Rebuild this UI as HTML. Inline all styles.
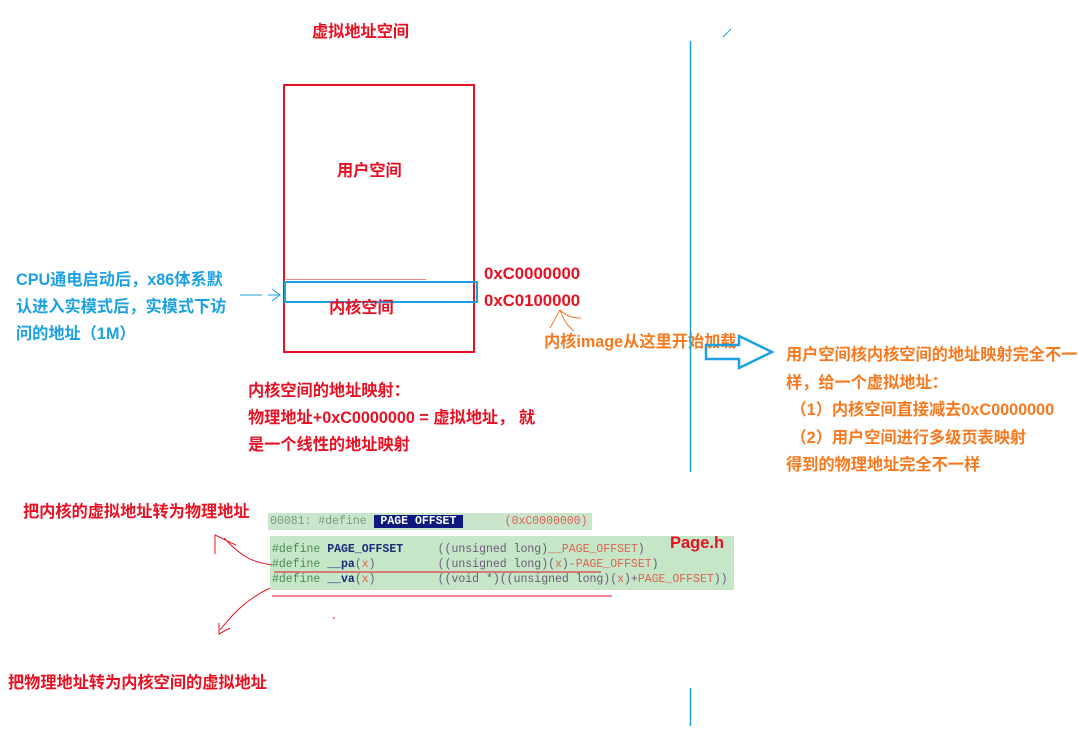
<!DOCTYPE html>
<html><head><meta charset="utf-8"><style>
body{margin:0;width:1078px;height:740px;background:#fff;position:relative;overflow:hidden;font-family:"Liberation Sans","Noto Sans CJK SC",sans-serif;font-weight:bold}
.t{position:absolute;font-size:16.2px;white-space:nowrap;line-height:16px}
.r{color:#e81123}.o{color:#f7791f}.b{color:#1ba1e2}
.code{position:absolute;font-family:"Liberation Mono",monospace;font-weight:normal;font-size:11.5px;white-space:pre;line-height:15px;color:#555}
.g{color:#4a8a52}.n{color:#1a2a7a;font-weight:bold}.x{color:#e06050}.p{color:#6a5a7a}
</style></head><body>
<div class="t r" style="left:312px;top:24px">虚拟地址空间</div>
<div style="position:absolute;left:283px;top:84px;width:188px;height:265px;border:2px solid #e81123"></div>
<div class="t r" style="left:337px;top:163px">用户空间</div>
<div style="position:absolute;left:286px;top:279px;width:140px;height:1px;background:#e88"></div>
<div style="position:absolute;left:284px;top:281px;width:190px;height:18px;border:2.5px solid #1ba1e2"></div>
<div class="t r" style="left:329px;top:300px">内核空间</div>
<div class="t r" style="left:484px;top:266px;font-size:16.8px">0xC0000000</div>
<div class="t r" style="left:484px;top:293px;font-size:16.8px">0xC0100000</div>
<div class="t o" style="left:544px;top:334px">内核image从这里开始加载</div>
<div class="t b" style="left:16px;top:267px;line-height:27px">CPU通电启动后，x86体系默<br>认进入实模式后，实模式下访<br>问的地址（1M）</div>
<div class="t r" style="left:248px;top:378px;line-height:27px">内核空间的地址映射：<br>物理地址+0xC0000000 = 虚拟地址， 就<br>是一个线性的地址映射</div>
<div class="t o" style="left:786px;top:342px;line-height:27.5px">用户空间核内核空间的地址映射完全不一<br>样，给一个虚拟地址：<br>&nbsp;（1）内核空间直接减去0xC0000000<br>&nbsp;（2）用户空间进行多级页表映射<br>得到的物理地址完全不一样</div>
<div class="t r" style="left:23px;top:504px">把内核的虚拟地址转为物理地址</div>
<div class="t r" style="left:8px;top:675px">把物理地址转为内核空间的虚拟地址</div>
<div style="position:absolute;left:268px;top:513px;width:324px;height:17px;background:#c9e6cc"></div>
<div class="code g" style="left:270px;top:514px;color:#7a9a7e">00081: #define <span style="background:#0c1a80;color:#fff;font-weight:bold"> PAGE OFFSET </span>      <span class="x">(0xC0000000)</span></div>
<div style="position:absolute;left:270px;top:536px;width:464px;height:54px;background:#c5e7c8"></div>
<div class="t r" style="left:670px;top:535px;font-size:16.5px">Page.h</div>
<div class="code" style="left:272px;top:542px"><span class="g">#define</span> <span class="n">PAGE_OFFSET</span>     <span class="p">((unsigned long)</span><span class="x">__PAGE_OFFSET</span><span class="p">)</span>
<span class="g">#define</span> <span class="n">__pa</span><span class="p">(</span><span class="x">x</span><span class="p">)</span>         <span class="p">((unsigned long)(</span><span class="x">x</span><span class="p">)</span><span class="x">-PAGE_OFFSET</span><span class="p">)</span>
<span class="g">#define</span> <span class="n">__va</span><span class="p">(</span><span class="x">x</span><span class="p">)</span>         <span class="p">((void *)((unsigned long)(</span><span class="x">x</span><span class="p">)+</span><span class="x">PAGE_OFFSET</span><span class="p">))</span></div>
<svg width="1078" height="740" style="position:absolute;left:0;top:0">
<line x1="690.5" y1="41" x2="690.5" y2="472" stroke="#1ba1e2" stroke-width="1.5"/>
<line x1="690.5" y1="688" x2="690.5" y2="726" stroke="#1ba1e2" stroke-width="1.5"/>
<line x1="723" y1="37" x2="731" y2="29" stroke="#1ba1e2" stroke-width="1"/>
<path d="M706 345 H739 V336 L772 352 L739 368 V359 H706 Z" fill="none" stroke="#1ba1e2" stroke-width="2.5"/>
<path d="M240 295 H262 M268 295 L280 295 M272 289 L280 295 L272 301" fill="none" stroke="#1ba1e2" stroke-width="1"/>
<path d="M550 328 C556 318 558 312 560 310 C563 318 566 325 574 331 M560 310 C566 316 572 318 581 318" fill="none" stroke="#f7791f" stroke-width="1"/>
<line x1="274" y1="572" x2="601" y2="572" stroke="#e81123" stroke-width="1"/>
<line x1="272" y1="596" x2="612" y2="596" stroke="#e81123" stroke-width="1"/>
<path d="M272 565 C250 562 240 555 224 538 M215 554 L215 535 C222 538 228 542 236 545" fill="none" stroke="#e81123" stroke-width="1"/>
<path d="M270 588 C245 600 232 615 220 630 M219 623 L219 634 L230 628" fill="none" stroke="#e81123" stroke-width="1"/>
<circle cx="334" cy="618" r="0.8" fill="#e81123"/>
</svg>
</body></html>
